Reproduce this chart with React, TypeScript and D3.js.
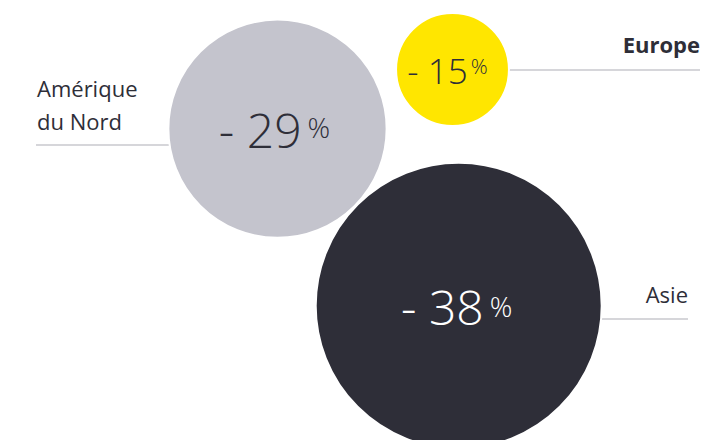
import React from "react";
import * as d3 from "d3";

const regions = ["Amérique du Nord", "Europe", "Asie"];
const changes = [-29, -15, -38];

// layout (not data)
const W = 725;
const H = 440;
const centers: [number, number][] = [
  [277.5, 128.7],
  [452.5, 69.5],
  [458.7, 305.7],
];
const fills = ["#c4c4cd", "#ffe600", "#2e2e38"];
const numColors = ["#2e2e38", "#2e2e38", "#ffffff"];
const FONT = "'Open Sans', 'Liberation Sans', sans-serif";

export default function App() {
  const r = d3.scaleLinear().domain([0, 38]).range([0, 143]);

  const nums = [
    { size: 48, pct: 28, base: 19, pdx: 6, pdy: -10, sx: -3 },
    { size: 35, pct: 21, base: 14, pdx: 3, pdy: -10, sx: -5 },
    { size: 48, pct: 28, base: 19, pdx: 6, pdy: -8, sx: -2 },
  ];

  return (
    <svg
      width={W}
      height={H}
      style={{ position: "absolute", left: 0, top: 0, fontFamily: FONT }}
    >
      <rect width={W} height={H} fill="#ffffff" />
      {/* leader lines */}
      <line x1={36} x2={centers[0][0]} y1={145} y2={145} stroke="#c8c8ce" strokeWidth={1.5} />
      <line x1={centers[1][0]} x2={700} y1={70} y2={70} stroke="#c8c8ce" strokeWidth={1.5} />
      <line x1={centers[2][0]} x2={688} y1={319} y2={319} stroke="#c8c8ce" strokeWidth={1.5} />

      {changes.map((v, i) => (
        <circle
          key={regions[i]}
          cx={centers[i][0]}
          cy={centers[i][1]}
          r={r(Math.abs(v))}
          fill={fills[i]}
          stroke="#ffffff"
          strokeWidth={2}
        />
      ))}

      {changes.map((v, i) => {
        const n = nums[i];
        return (
          <text
            key={"n" + i}
            x={centers[i][0] + n.sx}
            y={centers[i][1] + n.base}
            textAnchor="middle"
            fill={numColors[i]}
            fontWeight={300}
          >
            <tspan fontSize={n.size}>{"- " + Math.abs(v)}</tspan>
            <tspan fontSize={n.pct} dx={n.pdx} dy={n.pdy}>%</tspan>
          </text>
        );
      })}

      {/* labels */}
      <text x={37} y={97} fontSize={22} fill="#2e2e38">
        {regions[0].split(" ")[0]}
      </text>
      <text x={37} y={130} fontSize={22} fill="#2e2e38">
        {regions[0].split(" ").slice(1).join(" ")}
      </text>
      <text x={700} y={53} fontSize={22} fontWeight={700} fill="#2e2e38" textAnchor="end">
        {regions[1]}
      </text>
      <text x={688} y={303} fontSize={22} fill="#2e2e38" textAnchor="end">
        {regions[2]}
      </text>
    </svg>
  );
}
